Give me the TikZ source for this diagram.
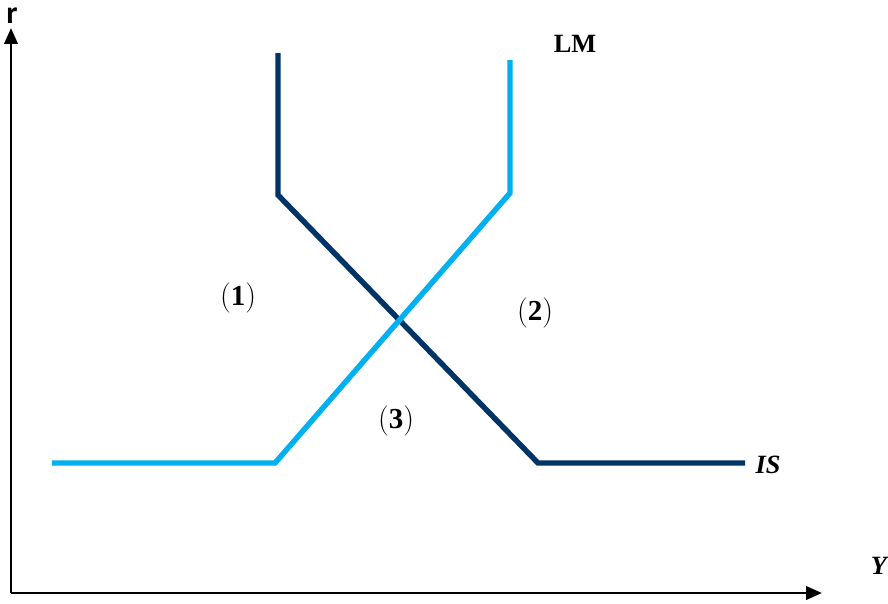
\documentclass[tikz,border=0pt]{standalone}
\usepackage{fontspec}
\setmainfont{Liberation Serif}
\newfontfamily\carlito{Carlito}
\definecolor{ISDark} {RGB}{0,51,102}
\definecolor{LMLight}{RGB}{0,176,240}
\usetikzlibrary{arrows.meta,positioning}

\begin{document}
\begin{tikzpicture}[x=0.02cm,y=-0.02cm,
  axis/.style={-{Triangle[length=9pt,width=7.5pt]},line width=1.6pt},
  curve/.style={line width=3.1pt,line join=miter},
  lbl/.style={font=\fontsize{15}{17}\selectfont\bfseries,inner sep=0pt},
  reg/.style={font=\fontsize{16.5}{18}\selectfont,inner sep=0pt}]
  \useasboundingbox (0,0) rectangle (888,603);
  % axes
  \coordinate (O) at (11,593);
  \coordinate (rtip) at (11,28);
  \coordinate (ytip) at (822,593);
  \draw[axis](O)--(rtip);
  \draw[axis](O)--(ytip);
  \node[font=\carlito\fontsize{18}{20}\selectfont\bfseries,inner sep=0pt]
       (r) at (12,16) {r};
  \node[lbl,font=\fontsize{15}{17}\selectfont\bfseries\itshape]
       (Y) at (879,566) {Y};
  % IS curve
  \coordinate (IS1) at (278,53);
  \coordinate (IS2) at (278,195);
  \coordinate (IS3) at (538,463);
  \coordinate (IS4) at (745,463);
  \draw[curve,ISDark](IS1)--(IS2)--(IS3)--(IS4);
  \node[lbl,font=\fontsize{15}{17}\selectfont\bfseries\itshape]
       (IS) at (768,465) {IS};
  % LM curve
  \coordinate (LM1) at (52,463);
  \coordinate (LM2) at (275,463);
  \coordinate (LM3) at (510,193);
  \coordinate (LM4) at (510,60);
  \draw[curve,LMLight](LM1)--(LM2)--(LM3)--(LM4);
  \node[lbl] (LM) at (575,44) {LM};
  % regions
  \node[reg] (R1) at (238,298) {$(\mathbf{1})$};
  \node[reg] (R2) at (535,313) {$(\mathbf{2})$};
  \node[reg] (R3) at (396,421) {$(\mathbf{3})$};
\end{tikzpicture}
\end{document}
